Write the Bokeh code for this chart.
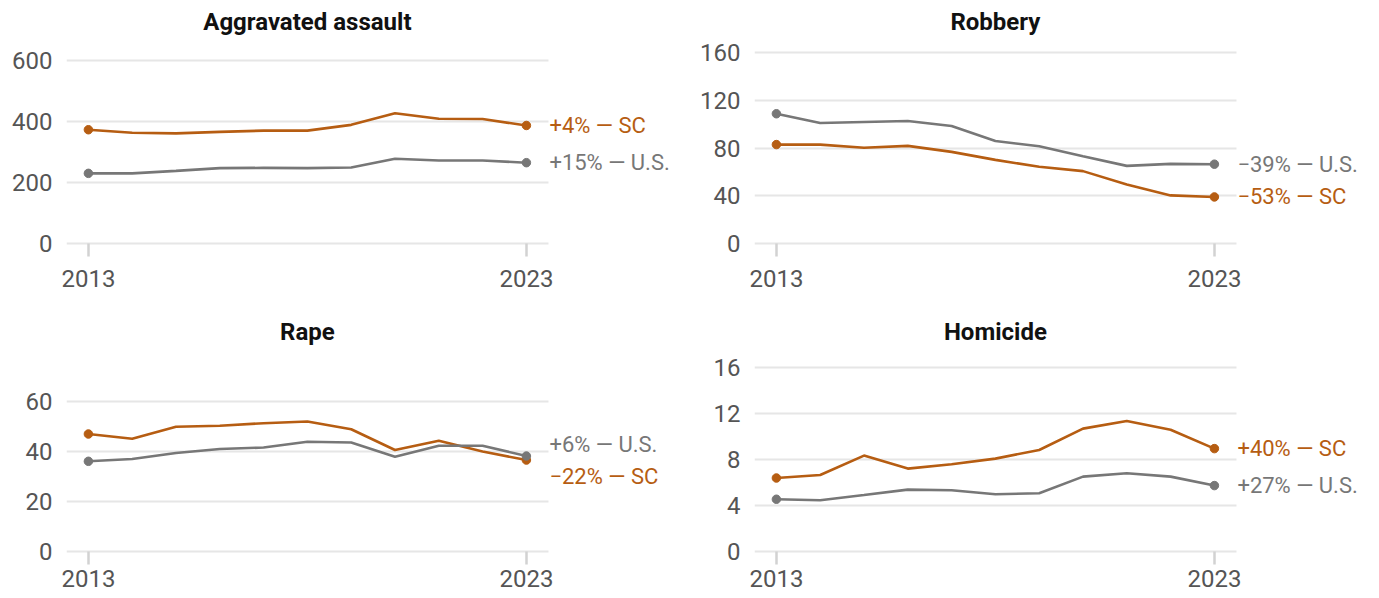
from bokeh.plotting import figure
from bokeh.layouts import column, row
from bokeh.models import FixedTicker, Range1d, LinearAxis, ColumnDataSource, Grid
from bokeh.core.properties import value
from bokeh.embed import file_html
from bokeh.resources import INLINE

# ---- data (rates per 100,000) ----
years = list(range(2013, 2024))

titles = ["Aggravated assault", "Robbery", "Rape", "Homicide"]

agg_sc = [374, 364, 362, 367, 371, 371, 390, 428, 410, 409, 388]
agg_us = [231, 231, 239, 248, 249, 248, 250, 279, 273, 273, 266]

rob_sc = [83.0, 83.0, 80.3, 81.9, 76.9, 70.2, 64.4, 60.8, 49.7, 40.5, 39.2]
rob_us = [108.8, 101.0, 101.9, 102.7, 98.6, 86.0, 81.6, 73.3, 65.2, 66.9, 66.6]

rape_sc = [46.9, 45.0, 49.8, 50.2, 51.2, 51.9, 48.8, 40.5, 44.2, 39.9, 36.5]
rape_us = [36.0, 36.9, 39.3, 40.9, 41.5, 43.8, 43.5, 37.8, 42.2, 42.2, 38.1]

hom_sc = [6.40, 6.66, 8.35, 7.22, 7.60, 8.09, 8.84, 10.70, 11.36, 10.60, 8.96]
hom_us = [4.55, 4.46, 4.92, 5.39, 5.33, 4.98, 5.07, 6.52, 6.81, 6.52, 5.74]

agg_ticks = [0, 200, 400, 600]
rob_ticks = [0, 40, 80, 120, 160]
rape_ticks = [0, 20, 40, 60]
hom_ticks = [0, 4, 8, 12, 16]

agg_labels = ["+4% \u2014 SC", "+15% \u2014 U.S."]
rob_labels = ["\u221253% \u2014 SC", "\u221239% \u2014 U.S."]
rape_labels = ["\u221222% \u2014 SC", "+6% \u2014 U.S."]
hom_labels = ["+40% \u2014 SC", "+27% \u2014 U.S."]

# ---- styles ----
ORANGE = "#b65d12"
GRAY = "#777777"
GRID = "#e6e6e6"
TICK = "#d2d2d2"
LABEL = "#555555"
FONT = "Roboto"
PX_PER_YEAR = 43.8
X0 = years[0] - 0.5
X1 = years[-1] + 0.5


def panel(title, sc, us, ticks, labels, y0, y1, w, h, bl, bt, bb,
          tick_in, tick_out, standoff, dy_sc, dy_us):
    x_end = X0 + (w - bl) / PX_PER_YEAR
    p = figure(width=w, height=h, x_range=Range1d(X0, x_end),
               y_range=Range1d(y0, y1), output_backend="svg",
               toolbar_location=None, tools="", title=None,
               min_border_left=bl, min_border_right=0,
               min_border_top=bt, min_border_bottom=bb,
               outline_line_color=None, background_fill_color="white",
               border_fill_color="white")

    p.xgrid.visible = False
    yt = FixedTicker(ticks=ticks)
    p.yaxis.ticker = yt
    p.ygrid.ticker = yt
    p.ygrid.grid_line_color = GRID
    p.ygrid.grid_line_width = 2
    if "cross_bounds" in Grid.properties():
        p.ygrid.cross_bounds = (X0, X1)
    else:
        p.ygrid.visible = False
        p.segment(x0=[X0] * len(ticks), y0=ticks, x1=[X1] * len(ticks),
                  y1=ticks, line_color=GRID, line_width=2, level="underlay")

    p.yaxis.axis_line_color = None
    p.yaxis.major_tick_line_color = None
    p.yaxis.minor_tick_line_color = None
    p.yaxis.major_tick_out = 0
    p.yaxis.major_tick_in = 0
    p.yaxis.major_label_standoff = 14
    p.yaxis.major_label_text_font = FONT
    p.yaxis.major_label_text_font_size = "24px"
    p.yaxis.major_label_text_color = LABEL

    xax = p.below[0]
    xax.ticker = FixedTicker(ticks=[years[0], years[-1]])
    xax.axis_line_color = None
    xax.minor_tick_line_color = None
    xax.major_tick_line_color = TICK
    xax.major_tick_line_width = 2.5
    xax.major_tick_in = tick_in
    xax.major_tick_out = tick_out
    xax.major_label_standoff = standoff
    xax.major_label_text_font = FONT
    xax.major_label_text_font_size = "24px"
    xax.major_label_text_color = LABEL

    # title as a centred label above the data area
    mid = (years[0] + years[-1]) / 2
    tax = LinearAxis(ticker=FixedTicker(ticks=[mid]),
                     major_label_overrides={mid: title})
    tax.axis_line_color = None
    tax.major_tick_line_color = None
    tax.minor_tick_line_color = None
    tax.major_tick_in = 0
    tax.major_tick_out = 0
    tax.major_label_standoff = 10
    tax.major_label_text_font = FONT
    tax.major_label_text_font_style = "bold"
    tax.major_label_text_font_size = "24px"
    tax.major_label_text_color = "#111111"
    p.add_layout(tax, "above")

    p.line(years, sc, line_color=ORANGE, line_width=2.6)
    p.scatter([years[0], years[-1]], [sc[0], sc[-1]], size=8.5,
              fill_color=ORANGE, line_color=ORANGE)
    p.line(years, us, line_color=GRAY, line_width=2.6)
    p.scatter([years[0], years[-1]], [us[0], us[-1]], size=8.5,
              fill_color=GRAY, line_color=GRAY)

    src = ColumnDataSource(dict(x=[years[-1], years[-1]], y=[sc[-1], us[-1]],
                                t=labels, c=[ORANGE, GRAY], dy=[dy_sc, dy_us]))
    p.text(x="x", y="y", text="t", text_color="c", y_offset="dy",
           x_offset=23, source=src, text_font=value(FONT),
           text_font_size=value("22px"), text_baseline="middle",
           text_align="left")
    return p


# top row: height 308, frame from page y 45 to 247
p1 = panel(titles[0], agg_sc, agg_us, agg_ticks, agg_labels, -12.1, 650.2,
           696, 308, 66, 45, 61, 4, 9, 13, 0, 0)
p2 = panel(titles[1], rob_sc, rob_us, rob_ticks, rob_labels, -3.1, 165.9,
           683, 308, 58, 45, 61, 4, 9, 13, 0, 0)
# bottom row: height 290, frame from page y 355 to 555
p3 = panel(titles[2], rape_sc, rape_us, rape_ticks, rape_labels, -1.6, 78.24,
           696, 290, 66, 47, 43, 4, 9, 5, 16, -12)
p4 = panel(titles[3], hom_sc, hom_us, hom_ticks, hom_labels, -0.35, 17.07,
           683, 290, 58, 47, 43, 4, 9, 5, 0, 0)

layout = column(row(p1, p2), row(p3, p4))

open("out.html", "w").write(file_html(layout, INLINE))
